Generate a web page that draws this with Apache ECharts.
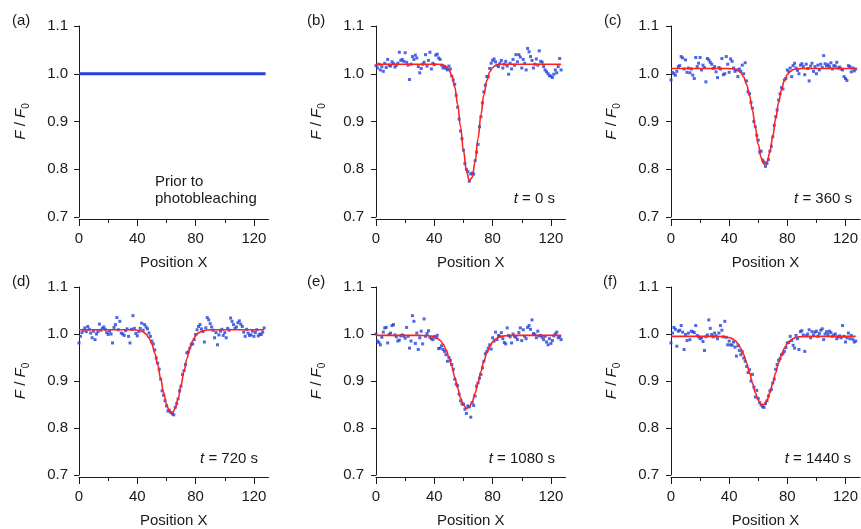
<!DOCTYPE html>
<html>
<head>
<meta charset="utf-8">
<script src="https://cdn.jsdelivr.net/npm/echarts@6/dist/echarts.min.js"></script>
<style>
html,body{margin:0;padding:0;background:#fff;}
#chart{width:861px;height:529px;}
</style>
</head>
<body>
<div id="chart"></div>
<script>
// ---------- data ----------
const positionX = [0,1,2,3,4,5,6,7,8,9,10,11,12,13,14,15,16,17,18,19,20,21,22,23,24,25,26,27,28,29,30,31,32,33,34,35,36,37,38,39,40,41,42,43,44,45,46,47,48,49,50,51,52,53,54,55,56,57,58,59,60,61,62,63,64,65,66,67,68,69,70,71,72,73,74,75,76,77,78,79,80,81,82,83,84,85,86,87,88,89,90,91,92,93,94,95,96,97,98,99,100,101,102,103,104,105,106,107,108,109,110,111,112,113,114,115,116,117,118,119,120,121,122,123,124,125,126,127];

const priorX = [0, 128];
const priorY = [1.0, 1.0];

const profile0s = [
1.017,1.012,1.020,1.008,1.015,1.005,1.022,1.013,1.030,1.018,
1.016,1.025,1.021,1.014,1.018,1.022,1.045,1.028,1.030,1.026,
1.044,1.024,1.018,0.988,1.020,1.036,1.030,1.039,1.033,1.015,
1.002,1.011,1.020,1.024,1.040,1.016,1.028,1.045,1.010,1.022,
1.019,1.039,1.041,1.033,1.030,1.018,1.012,1.015,1.011,1.008,
1.016,1.010,0.995,0.987,0.978,0.955,0.930,0.905,0.880,0.864,
0.840,0.812,0.800,0.795,0.775,0.790,0.792,0.790,0.818,0.836,
0.852,0.889,0.910,0.939,0.962,0.976,0.994,0.994,1.011,1.022,
1.028,1.031,1.025,1.018,1.015,1.022,1.028,1.012,1.020,1.026,
1.016,0.999,1.022,1.010,1.030,1.018,1.040,1.025,1.040,1.035,
1.012,1.030,1.022,1.008,1.053,1.046,1.036,1.028,1.012,1.020,
1.031,1.018,1.048,1.026,1.024,1.015,1.008,1.004,1.000,0.996,
0.995,0.992,0.999,1.008,1.002,1.015,1.032,1.008];

const profile360s = [
0.987,1.003,1.000,0.997,1.005,1.015,1.017,1.036,1.033,1.010,
1.029,1.003,1.012,1.002,1.010,0.997,0.990,1.034,1.015,1.022,
1.034,1.008,1.018,1.013,0.983,1.032,1.029,1.024,1.020,1.011,
1.015,1.004,0.992,1.013,1.010,1.032,0.998,1.000,1.036,1.020,
1.003,1.031,1.026,1.012,1.005,1.008,0.994,1.010,1.005,1.018,
1.000,1.023,0.985,0.962,0.958,0.940,0.928,0.900,0.889,0.871,
0.861,0.836,0.838,0.819,0.815,0.806,0.812,0.820,0.838,0.848,
0.868,0.892,0.910,0.924,0.945,0.958,0.971,0.968,0.987,0.990,
1.008,1.004,1.012,0.994,1.017,1.022,1.012,1.007,1.000,1.018,
1.021,1.015,0.998,1.020,1.011,0.985,1.016,1.022,1.005,1.015,
1.000,1.018,1.008,1.020,1.013,1.038,1.021,1.016,1.019,1.015,
1.023,1.010,1.017,1.016,1.024,1.012,1.014,1.010,1.008,0.994,
0.990,0.986,1.017,1.015,1.004,1.012,1.006,1.010];

const profile720s = [
0.981,0.995,1.003,1.008,1.013,1.005,1.016,1.010,1.002,0.992,
1.006,0.988,1.000,1.005,1.021,1.008,1.012,1.015,1.010,1.003,
0.999,1.006,1.000,0.981,1.014,1.020,1.035,1.009,1.027,1.002,
1.000,0.997,1.007,1.011,0.995,0.981,1.010,1.039,1.012,1.001,
0.996,1.005,1.012,1.023,1.008,1.020,1.015,1.011,1.002,0.995,
0.985,0.979,0.966,0.949,0.938,0.925,0.904,0.879,0.870,0.858,
0.847,0.836,0.838,0.833,0.830,0.828,0.844,0.852,0.862,0.879,
0.889,0.914,0.922,0.935,0.960,0.962,0.970,0.978,0.979,0.988,
0.999,1.009,1.016,1.020,1.011,1.005,0.983,1.013,1.035,1.030,
1.022,1.015,1.008,0.992,1.003,0.977,0.998,1.006,1.010,0.997,
1.003,0.992,1.012,1.008,1.034,1.027,1.020,1.012,1.015,1.024,
1.028,1.021,1.016,1.004,0.995,1.010,1.002,0.997,0.998,1.006,
0.995,1.003,1.009,0.996,1.000,0.999,1.004,1.013];

const profile1080s = [
1.000,0.985,0.982,0.977,0.993,1.004,1.013,1.014,0.981,0.999,
1.002,1.018,1.020,0.998,0.994,0.985,0.987,0.996,0.998,0.996,
0.991,1.014,0.995,0.970,0.985,1.039,1.027,0.980,1.002,0.967,
0.992,1.006,0.979,1.032,0.995,1.001,1.007,0.993,0.990,0.988,
0.995,0.992,0.997,0.969,0.970,0.975,0.967,0.963,0.956,0.942,
0.950,0.944,0.935,0.925,0.904,0.893,0.890,0.872,0.858,0.851,
0.851,0.840,0.831,0.847,0.845,0.823,0.854,0.848,0.868,0.889,
0.896,0.906,0.914,0.928,0.942,0.958,0.963,0.970,0.977,0.968,
0.992,0.985,1.004,0.988,0.997,0.995,1.003,0.990,0.982,0.979,
1.013,0.997,0.994,0.981,1.000,0.995,0.993,0.988,1.003,1.013,
0.986,1.009,0.995,0.990,1.014,1.018,1.010,1.030,1.001,0.999,
0.992,1.006,0.996,0.997,0.993,0.988,0.995,0.983,0.977,0.990,
0.980,0.986,0.996,1.000,1.004,0.992,0.994,0.988];

const profile1440s = [
0.981,1.002,1.014,1.010,0.974,1.006,1.008,1.018,1.004,0.967,
0.999,0.986,1.002,0.988,1.006,1.005,1.003,1.018,0.997,0.994,
0.990,0.992,0.984,0.965,0.994,0.998,1.030,1.012,0.999,0.994,
1.002,0.996,0.990,1.002,1.018,1.008,0.994,1.027,0.993,0.977,
0.985,0.977,0.976,0.983,0.972,0.953,0.975,0.965,0.956,0.962,
0.949,0.942,0.931,0.918,0.924,0.900,0.914,0.887,0.866,0.880,
0.863,0.854,0.849,0.845,0.844,0.852,0.858,0.868,0.879,0.882,
0.896,0.904,0.925,0.935,0.944,0.948,0.956,0.958,0.963,0.971,
0.981,0.982,0.995,0.986,0.976,0.970,0.997,0.990,0.967,1.005,
1.007,0.998,0.963,0.996,1.000,1.009,0.992,1.005,0.998,1.004,
1.006,0.995,1.001,1.008,1.011,0.988,1.000,1.005,0.999,1.006,
1.003,0.995,0.998,1.000,0.990,0.994,0.996,0.992,1.018,0.995,
0.983,0.992,1.002,0.990,0.997,0.989,0.983,0.985];

// Gaussian fit curves, read at these positions
const fitX = [0,30,34,38,40,42,44,46,48,50,52,54,56,58,60,62,64,66,68,70,72,74,76,78,80,82,84,86,88,90,94,98,127];
const fit0s = [1.020,1.020,1.020,1.020,1.020,1.020,1.0195,1.0185,1.0157,1.0092,0.996,0.9725,0.936,0.889,0.839,0.797,0.776,0.783,0.816,0.864,0.914,0.956,0.9857,1.0037,1.0131,1.0174,1.0191,1.0198,1.020,1.020,1.020,1.020,1.020];
const fit360s = [1.011,1.011,1.011,1.011,1.0108,1.0104,1.0094,1.007,1.0022,0.993,0.9776,0.9543,0.9233,0.887,0.852,0.824,0.8106,0.815,0.836,0.869,0.906,0.9396,0.967,0.9862,0.9983,1.005,1.0084,1.010,1.0106,1.011,1.011,1.011,1.011];
const fit720s = [1.009,1.009,1.009,1.0087,1.0081,1.0069,1.0044,0.9997,0.9914,0.9783,0.9593,0.9345,0.9055,0.876,0.8508,0.8348,0.8314,0.8414,0.8626,0.8906,0.9203,0.9475,0.9696,0.9856,0.9961,1.0024,1.0059,1.0076,1.0084,1.0088,1.009,1.009,1.009];
const fit1080s = [0.997,0.997,0.9967,0.9956,0.994,0.9912,0.9863,0.9785,0.9669,0.9511,0.9313,0.9086,0.8852,0.8642,0.8489,0.8418,0.8442,0.8557,0.8742,0.8968,0.9202,0.9417,0.9596,0.9732,0.9828,0.989,0.9928,0.9949,0.996,0.9966,0.997,0.997,0.997];
const fit1440s = [0.995,0.995,0.9948,0.9939,0.9927,0.9903,0.9863,0.9797,0.9698,0.956,0.9383,0.9175,0.8954,0.8749,0.8589,0.8501,0.8501,0.8589,0.8749,0.8954,0.9175,0.9383,0.956,0.9698,0.9797,0.9863,0.9903,0.9927,0.9939,0.9945,0.995,0.995,0.995];

const xMajorTicks = [0, 40, 80, 120];
const xMinorTicks = [20, 60, 100];
const panelLabels = ['(a)', '(b)', '(c)', '(d)', '(e)', '(f)'];
const timeLabels = ['', '0', '360', '720', '1080', '1440'];
const xAxisTitle = 'Position X';

// ---------- layout ----------
const FONT = "'Liberation Sans', Arial, sans-serif";
const INK = '#1a1a1a';
const BLUE = '#1f42dc';
const RED = '#ff1f1f';
const lefts = [79, 376, 671];
const tops = [26, 287];
const heights = [191, 190];
const yOffsets = [2, 3, 3];

const grids = [], xAxes = [], yAxes = [], series = [];
for (let i = 0; i < 6; i++) {
  const r = Math.floor(i / 3), c = i % 3;
  grids.push({left: lefts[c], top: tops[r], width: 189.5, height: heights[r], containLabel: false});
  xAxes.push({
    gridIndex: i, type: 'value', min: 0, max: 130, position: 'bottom', offset: 2,
    axisLine: {show: true, lineStyle: {color: INK, width: 1}},
    axisTick: {show: true, length: 7, customValues: xMajorTicks, lineStyle: {color: INK}},
    axisLabel: {show: true, customValues: xMajorTicks, margin: 12, fontSize: 15, color: INK, fontFamily: FONT},
    splitLine: {show: false},
    name: xAxisTitle, nameLocation: 'middle', nameGap: 36,
    nameTextStyle: {fontSize: 15, color: INK, fontFamily: FONT}
  });
  xAxes.push({
    gridIndex: i, type: 'value', min: 0, max: 130, position: 'bottom', offset: 2,
    axisLine: {show: false},
    axisTick: {show: true, length: 4, customValues: xMinorTicks, lineStyle: {color: INK}},
    axisLabel: {show: false},
    splitLine: {show: false}
  });
  yAxes.push({
    gridIndex: i, type: 'value', min: 0.7, max: 1.1, interval: 0.1, offset: yOffsets[c],
    axisLine: {show: true, lineStyle: {color: INK, width: 1}},
    axisTick: {show: true, length: 5, lineStyle: {color: INK}},
    axisLabel: {margin: 9, fontSize: 15, color: INK, fontFamily: FONT, formatter: v => v.toFixed(1)},
    splitLine: {show: false},
    name: '{i|F} / {i|F}{s|0}', nameLocation: 'middle', nameGap: 46, nameRotate: 90,
    nameTextStyle: {
      fontSize: 15, color: INK, fontFamily: FONT,
      rich: {
        i: {fontStyle: 'italic', fontSize: 15, color: INK, fontFamily: FONT, lineHeight: 20},
        s: {fontSize: 10, color: INK, fontFamily: FONT, verticalAlign: 'bottom', lineHeight: 14}
      }
    }
  });
}

// panel (a): prior to photobleaching
series.push({
  type: 'line', xAxisIndex: 0, yAxisIndex: 0, symbol: 'none',
  data: priorX.map((x, k) => [x, priorY[k]]),
  lineStyle: {color: BLUE, width: 3}, silent: true, animation: false
});
const profiles = [profile0s, profile360s, profile720s, profile1080s, profile1440s];
const fits = [fit0s, fit360s, fit720s, fit1080s, fit1440s];
for (let p = 0; p < 5; p++) {
  const i = p + 1;
  series.push({
    type: 'scatter', xAxisIndex: 2 * i, yAxisIndex: i, symbol: 'rect', symbolSize: 3,
    data: positionX.map((x, k) => [x, profiles[p][k]]),
    itemStyle: {color: BLUE}, silent: true, animation: false
  });
  series.push({
    type: 'line', xAxisIndex: 2 * i, yAxisIndex: i, symbol: 'none', smooth: 0.4, smoothMonotone: 'x',
    data: fitX.map((x, k) => [x, fits[p][k]]),
    lineStyle: {color: RED, width: 1.6}, silent: true, animation: false, z: 3
  });
}

// ---------- text annotations ----------
const graphics = [];
const labelPos = [[12, 22], [307, 22], [604, 22], [12, 283], [307, 283], [603, 283]];
labelPos.forEach((pt, i) => {
  graphics.push({type: 'text', left: pt[0], top: pt[1] - 9,
    style: {text: panelLabels[i], fontSize: 15, fontFamily: FONT, fill: INK}});
});
const timeRight = [0, 555, 852, 258, 555, 851];
const timeY = [0, 199, 199, 459, 459, 459];
for (let i = 1; i < 6; i++) {
  graphics.push({type: 'text', x: timeRight[i], y: timeY[i],
    style: {text: '{i|t} = ' + timeLabels[i] + ' s', align: 'right', verticalAlign: 'middle',
      fontSize: 15, fontFamily: FONT, fill: INK,
      rich: {i: {fontStyle: 'italic', fontSize: 15, fontFamily: FONT, fill: INK}}}});
}
graphics.push({type: 'text', x: 155, y: 182,
  style: {text: 'Prior to', align: 'left', verticalAlign: 'middle', fontSize: 15, fontFamily: FONT, fill: INK}});
graphics.push({type: 'text', x: 155, y: 199,
  style: {text: 'photobleaching', align: 'left', verticalAlign: 'middle', fontSize: 15, fontFamily: FONT, fill: INK}});

const chart = echarts.init(document.getElementById('chart'), null, {renderer: 'canvas'});
chart.setOption({
  backgroundColor: '#ffffff',
  animation: false,
  grid: grids, xAxis: xAxes, yAxis: yAxes, series: series,
  graphic: graphics
});
</script>
</body>
</html>
